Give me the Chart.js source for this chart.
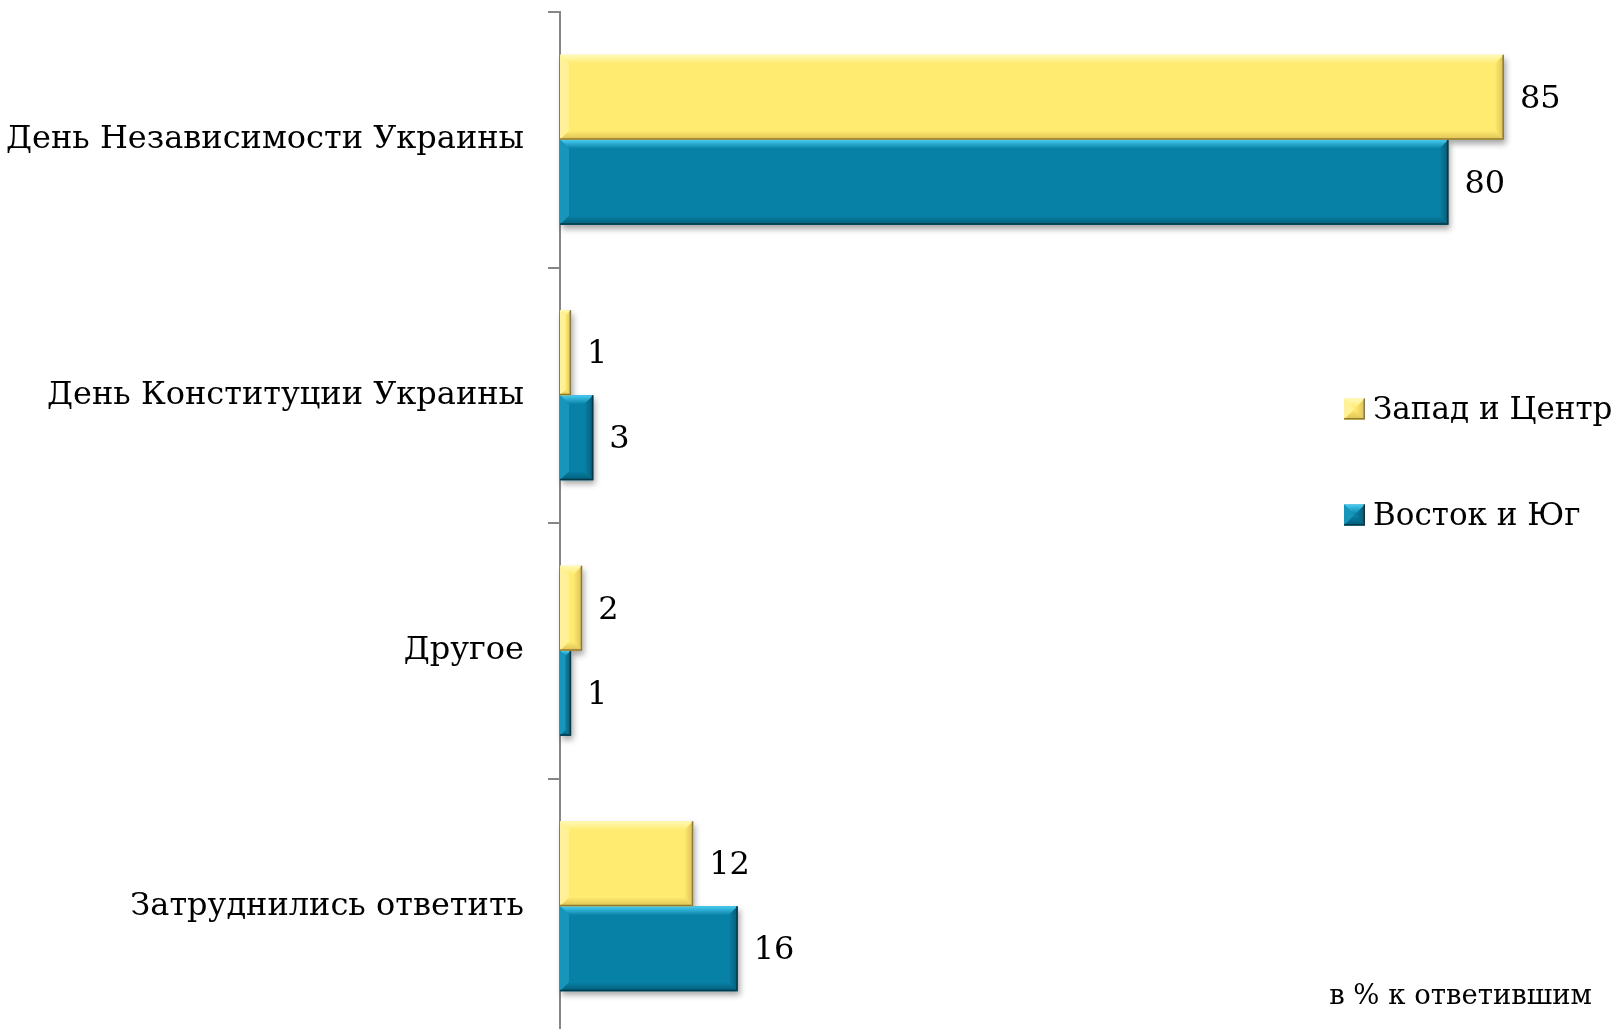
<!DOCTYPE html>
<html>
<head>
<meta charset="utf-8">
<script src="https://cdn.jsdelivr.net/npm/chart.js@4.4.1/dist/chart.umd.min.js"></script>
<style>
  html, body { margin: 0; padding: 0; background: #fff; overflow: hidden; }
  #wrap { position: relative; width: 1618px; height: 1040px; }
</style>
</head>
<body>
<div id="wrap"><canvas id="chart"></canvas></div>
<script>
const categories = [
    'День Независимости Украины',
    'День Конституции Украины',
    'Другое',
    'Затруднились ответить'
];
const seriesNames = ['Запад и Центр', 'Восток и Юг'];
const westCenter = [85, 1, 2, 12];
const eastSouth = [80, 3, 1, 16];
const footnote = 'в % к ответившим';

const FONT = '"DejaVu Serif", "Liberation Serif", serif';

// bevel palettes per series
const palettes = [
    { main: '#FFEB6F', light: '#FFF9B8', side: '#FFF19A', dark: '#DDBF55', edge: '#8E7B30' },
    { main: '#0881A6', light: '#48CDF3', side: '#1895BA', dark: '#045C78', edge: '#033A4C' }
];

function bevelRect(ctx, x0, y0, x1, y1, p, size) {
    const w = x1 - x0, h = y1 - y0;
    const b = Math.max(1, Math.min(size, w / 2, h / 2));
    ctx.save();
    ctx.fillStyle = p.main;
    ctx.fillRect(x0, y0, w, h);

    // top
    let g = ctx.createLinearGradient(0, y0, 0, y0 + b);
    g.addColorStop(0, p.light);
    g.addColorStop(1, p.main);
    ctx.fillStyle = g;
    ctx.beginPath();
    ctx.moveTo(x0, y0); ctx.lineTo(x1, y0); ctx.lineTo(x1 - b, y0 + b); ctx.lineTo(x0 + b, y0 + b);
    ctx.closePath(); ctx.fill();

    // left
    ctx.fillStyle = p.side;
    ctx.beginPath();
    ctx.moveTo(x0, y0); ctx.lineTo(x0 + b, y0 + b); ctx.lineTo(x0 + b, y1 - b); ctx.lineTo(x0, y1);
    ctx.closePath(); ctx.fill();

    // bottom
    g = ctx.createLinearGradient(0, y1 - b, 0, y1);
    g.addColorStop(0, p.main);
    g.addColorStop(1, p.dark);
    ctx.fillStyle = g;
    ctx.beginPath();
    ctx.moveTo(x0, y1); ctx.lineTo(x1, y1); ctx.lineTo(x1 - b, y1 - b); ctx.lineTo(x0 + b, y1 - b);
    ctx.closePath(); ctx.fill();

    // right
    g = ctx.createLinearGradient(x1 - b, 0, x1, 0);
    g.addColorStop(0, p.main);
    g.addColorStop(1, p.dark);
    ctx.fillStyle = g;
    ctx.beginPath();
    ctx.moveTo(x1, y0); ctx.lineTo(x1 - b, y0 + b); ctx.lineTo(x1 - b, y1 - b); ctx.lineTo(x1, y1);
    ctx.closePath(); ctx.fill();

    // dark edge right / bottom
    ctx.strokeStyle = p.edge;
    ctx.lineWidth = 1.5;
    ctx.beginPath();
    ctx.moveTo(x1 - 0.75, y0); ctx.lineTo(x1 - 0.75, y1 - 0.75); ctx.lineTo(x0, y1 - 0.75);
    ctx.stroke();
    ctx.restore();
}

const bevelBars = {
    id: 'bevelBars',
    beforeDatasetsDraw(chart) {
        // soft shadows under every bar
        const ctx = chart.ctx;
        ctx.save();
        ctx.shadowColor = 'rgba(0,0,0,0.35)';
        ctx.shadowBlur = 6;
        ctx.shadowOffsetX = 2;
        ctx.shadowOffsetY = 4;
        ctx.fillStyle = '#ffffff';
        chart.data.datasets.forEach((ds, i) => {
            chart.getDatasetMeta(i).data.forEach(bar => {
                ctx.fillRect(bar.base, bar.y - bar.height / 2, bar.x - bar.base, bar.height);
            });
        });
        ctx.restore();
    },
    afterDatasetsDraw(chart) {
        const ctx = chart.ctx;
        // draw blue first, yellow on top
        for (let i = chart.data.datasets.length - 1; i >= 0; i--) {
            chart.getDatasetMeta(i).data.forEach(bar => {
                bevelRect(ctx, bar.base, bar.y - bar.height / 2, bar.x, bar.y + bar.height / 2, palettes[i], 9);
            });
        }
        // value labels
        ctx.save();
        ctx.font = '32px ' + FONT;
        ctx.fillStyle = '#000';
        ctx.textAlign = 'left';
        ctx.textBaseline = 'middle';
        chart.data.datasets.forEach((ds, i) => {
            chart.getDatasetMeta(i).data.forEach((bar, j) => {
                ctx.fillText(String(ds.data[j]), bar.x + 16, bar.y + 2);
            });
        });
        ctx.restore();
    },
    afterDraw(chart) {
        const ctx = chart.ctx;
        // legend
        const legendY = [409, 515];
        ctx.save();
        ctx.font = '31px ' + FONT;
        ctx.textBaseline = 'middle';
        seriesNames.forEach((name, i) => {
            const y = legendY[i];
            bevelRect(ctx, 1344, y - 10.5, 1365, y + 10.5, palettes[i], 10);
            ctx.fillStyle = '#000';
            ctx.fillText(name, 1373, y + 2);
        });
        // footnote
        ctx.font = '27.5px ' + FONT;
        ctx.textAlign = 'right';
        ctx.fillText(footnote, 1592, 997);
        ctx.restore();
    }
};

new Chart(document.getElementById('chart'), {
    type: 'bar',
    data: {
        labels: categories,
        datasets: [
            { label: seriesNames[0], data: westCenter, backgroundColor: 'rgba(0,0,0,0)', borderWidth: 0 },
            { label: seriesNames[1], data: eastSouth, backgroundColor: 'rgba(0,0,0,0)', borderWidth: 0 }
        ]
    },
    options: {
        indexAxis: 'y',
        responsive: true,
        maintainAspectRatio: false,
        animation: false,
        layout: { padding: { top: 12, bottom: 6, left: 0, right: 3 } },
        categoryPercentage: 0.665,
        barPercentage: 1.0,
        plugins: {
            legend: { display: false },
            tooltip: { enabled: false }
        },
        scales: {
            x: {
                display: false,
                min: 0,
                max: 95
            },
            y: {
                afterFit(scale) {
                    scale.width = 560;
                    scale.paddingTop = 0;
                    scale.paddingBottom = 0;
                },
                border: { display: true, color: '#868686', width: 2 },
                grid: {
                    display: true,
                    drawOnChartArea: false,
                    drawTicks: true,
                    tickLength: 12,
                    color: '#868686',
                    lineWidth: 2
                },
                ticks: {
                    color: '#000',
                    padding: 24,
                    font: { family: FONT, size: 32 }
                }
            }
        }
    },
    plugins: [bevelBars]
});
</script>
</body>
</html>
